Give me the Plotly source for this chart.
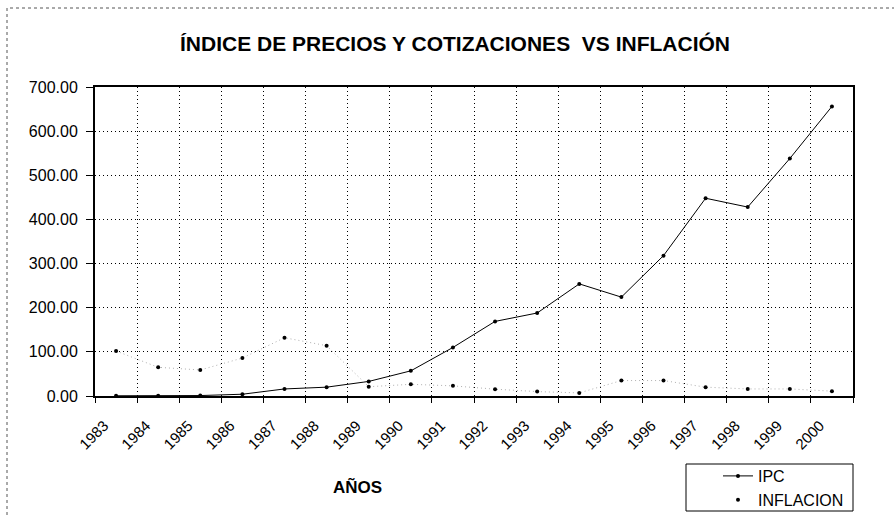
import plotly.graph_objects as go

years = ["1983", "1984", "1985", "1986", "1987", "1988", "1989", "1990", "1991",
         "1992", "1993", "1994", "1995", "1996", "1997", "1998", "1999", "2000"]
ipc = [0.5, 0.8, 1.0, 4.0, 16.0, 20.0, 33.0, 57.0, 110.0,
       169.0, 188.0, 254.0, 224.0, 318.0, 448.0, 428.0, 538.0, 656.0]
inflacion = [102.0, 65.0, 59.0, 86.0, 132.0, 114.0, 21.0, 26.5, 23.0,
             15.5, 10.0, 7.0, 35.0, 35.0, 20.0, 16.0, 16.0, 11.0]

FONT = "Liberation Sans, Arial, sans-serif"

# plot area in pixels
W, H = 894, 516
L, R, T, B = 95, 853, 87, 396
pw, ph = R - L, B - T

def px(x):
    return (x - L) / pw

def py(y):
    return (B - y) / ph

fig = go.Figure()

fig.add_trace(go.Scatter(
    x=years, y=ipc, name="IPC", mode="lines+markers",
    line=dict(color="black", width=1),
    marker=dict(color="black", size=4),
))
fig.add_trace(go.Scatter(
    x=years, y=inflacion, name="INFLACION_line", mode="lines",
    line=dict(color="#b0b0b0", width=1, dash="1px,3px"),
    showlegend=False, hoverinfo="skip",
))
fig.add_trace(go.Scatter(
    x=years, y=inflacion, name="INFLACION", mode="markers",
    marker=dict(color="black", size=4),
))

fig.update_layout(
    width=W, height=H,
    margin=dict(l=L, r=W - R, t=T, b=H - B, autoexpand=False),
    paper_bgcolor="white", plot_bgcolor="white",
    font=dict(family=FONT, size=14, color="black"),
    title=dict(
        text="<b>ÍNDICE DE PRECIOS Y COTIZACIONES  VS INFLACIÓN</b>",
        x=455 / W, xanchor="center", y=1 - 44 / H, yanchor="middle",
        font=dict(family=FONT, size=21, color="black"),
    ),
    showlegend=True,
    legend=dict(
        xref="container", yref="container",
        x=718 / W, y=1 - 459 / H, xanchor="left", yanchor="top",
        borderwidth=0, bgcolor="rgba(0,0,0,0)",
        font=dict(family=FONT, size=16, color="black"),
        tracegroupgap=0,
    ),
    xaxis=dict(
        type="category", tickson="boundaries", automargin=False,
        tickangle=-45, ticklabelshift=-12, ticklabelstandoff=13,
        ticks="outside", ticklen=5, tickcolor="black", tickwidth=1,
        showline=True, linecolor="black", linewidth=2, mirror=True,
        showgrid=True, gridcolor="black", gridwidth=1, griddash="1px,3px",
        tickfont=dict(family=FONT, size=15, color="black"),
        range=[-0.5, 17.5],
    ),
    yaxis=dict(
        range=[0, 700], dtick=100, tickformat=".2f", automargin=False,
        ticks="outside", ticklen=7, tickcolor="black", tickwidth=1,
        ticklabelstandoff=5,
        showline=True, linecolor="black", linewidth=2, mirror=True,
        showgrid=True, gridcolor="black", gridwidth=1, griddash="1px,3px",
        zeroline=False,
        tickfont=dict(family=FONT, size=16, color="black"),
    ),
    annotations=[dict(
        text="<b>AÑOS</b>", x=px(357), y=py(487), xref="paper", yref="paper",
        xanchor="center", yanchor="middle", showarrow=False,
        font=dict(family=FONT, size=17, color="black"),
    )],
    shapes=[
        dict(
            type="rect", xref="paper", yref="paper",
            x0=px(7), x1=px(910), y0=py(530), y1=py(8),
            line=dict(color="#555555", width=1, dash="dot"),
            layer="below",
        ),
        dict(
            type="rect", xref="paper", yref="paper",
            x0=px(686), x1=px(853), y0=py(511), y1=py(464),
            line=dict(color="black", width=1),
            fillcolor="white", layer="above",
        ),
    ],
)

fig.write_html("out.html", config={"displayModeBar": False},
               post_script="document.body.style.margin='0';")
